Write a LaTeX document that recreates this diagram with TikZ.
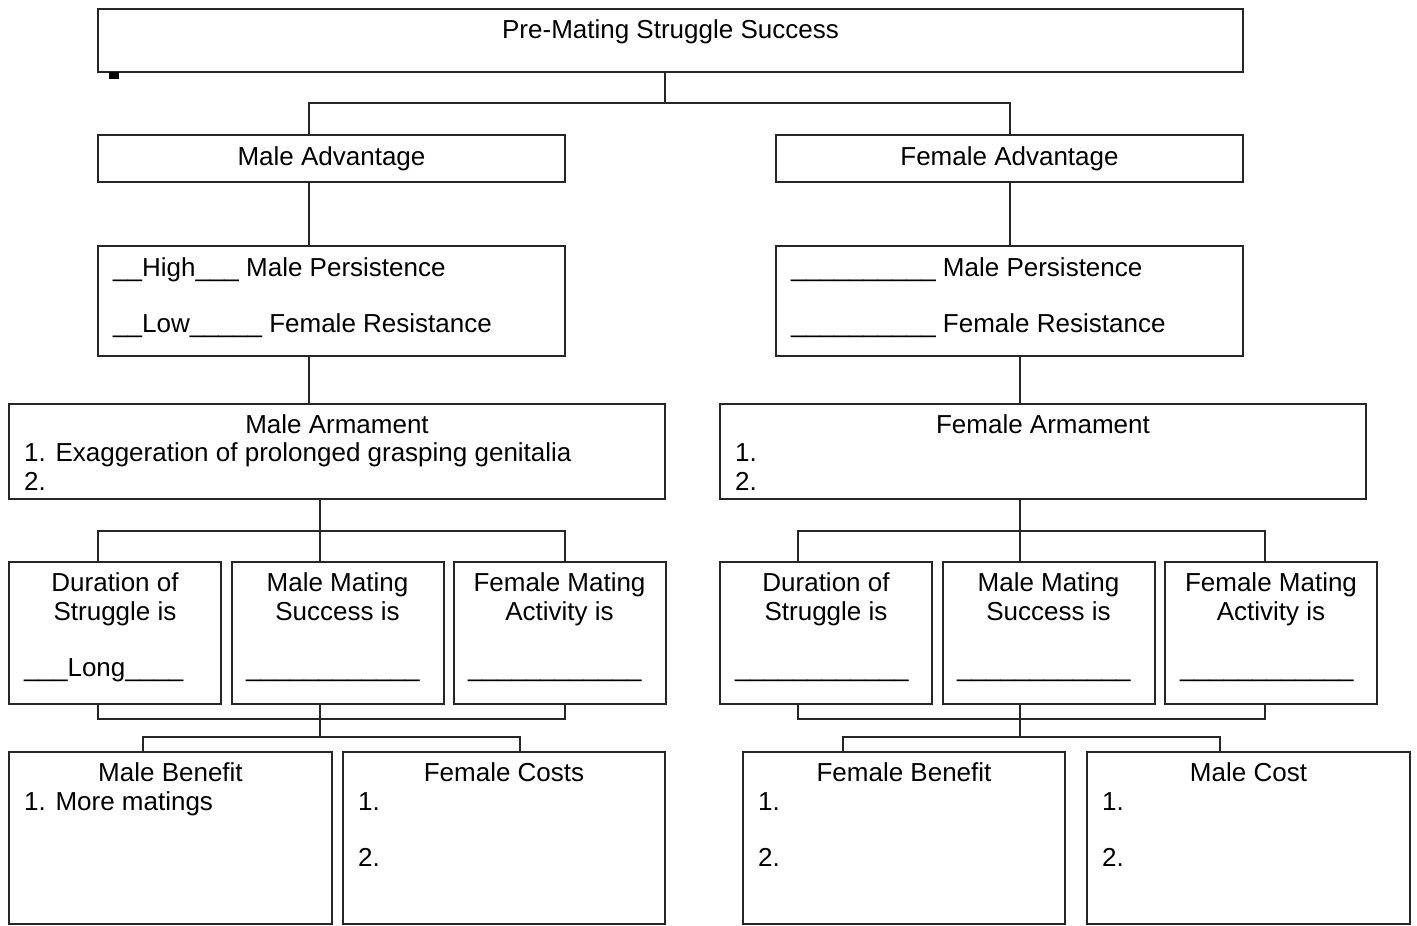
\documentclass[tikz,border=0pt]{standalone}
\usepackage{fontspec}
\setmainfont{Liberation Sans}
\definecolor{linecol}{gray}{0.15}
\begin{document}
\begin{tikzpicture}[x=1pt, y=-1pt,
    box/.style={draw=linecol, line width=2pt, inner sep=0pt},
    txt/.style={inner sep=0pt, font=\fontsize{26}{29}\selectfont},
    conn/.style={draw=linecol, line width=2pt}]
    \useasboundingbox (0,0) rectangle (1417,926);
    % boxes
    \node[box, minimum width=1145pt, minimum height=63pt] (Top) at (670.5,40.5) {};
    \node[box, minimum width=467pt, minimum height=47pt] (MaleAdv) at (331.5,158.5) {};
    \node[box, minimum width=467pt, minimum height=47pt] (FemAdv) at (1009.5,158.5) {};
    \node[box, minimum width=467pt, minimum height=110pt] (MalePers) at (331.5,301) {};
    \node[box, minimum width=467pt, minimum height=110pt] (FemPers) at (1009.5,301) {};
    \node[box, minimum width=656pt, minimum height=95pt] (MaleArm) at (337,451.5) {};
    \node[box, minimum width=646pt, minimum height=95pt] (FemArm) at (1043,451.5) {};
    \node[box, minimum width=212pt, minimum height=142pt] (DurL) at (115,633) {};
    \node[box, minimum width=212pt, minimum height=142pt] (MmsL) at (337.5,633) {};
    \node[box, minimum width=212pt, minimum height=142pt] (FmaL) at (559.5,633) {};
    \node[box, minimum width=212pt, minimum height=142pt] (DurR) at (826,633) {};
    \node[box, minimum width=212pt, minimum height=142pt] (MmsR) at (1048.5,633) {};
    \node[box, minimum width=212pt, minimum height=142pt] (FmaR) at (1271,633) {};
    \node[box, minimum width=323pt, minimum height=172pt] (MBen) at (170.5,838) {};
    \node[box, minimum width=322pt, minimum height=172pt] (FCost) at (504,838) {};
    \node[box, minimum width=322pt, minimum height=172pt] (FBen) at (904,838) {};
    \node[box, minimum width=323pt, minimum height=172pt] (MCost) at (1248.5,838) {};
    \fill[black] (109,72) rectangle (119,79);
    %
    % texts (multi-line nodes sit on their last baseline)
    \node[txt, anchor=base] (TopText) at (670.5,38) {Pre-Mating Struggle Success};
    \node[txt, anchor=base] (MaleAdvText) at (331.5,165) {Male Advantage};
    \node[txt, anchor=base] (FemAdvText) at (1009.5,165) {Female Advantage};
    \node[txt, anchor=base west, align=left] (MalePersText) at (113,332)
        {\_\_High\_\_\_ Male Persistence\\[27pt]\_\_Low\_\_\_\_\_ Female Resistance};
    \node[txt, anchor=base west, align=left] (FemPersText) at (791,332)
        {\_\_\_\_\_\_\_\_\_\_ Male Persistence\\[27pt]\_\_\_\_\_\_\_\_\_\_ Female Resistance};
    \node[txt, anchor=base] (MaleArmTitle) at (337,433) {Male Armament};
    \node[txt, anchor=base west, align=left] (MaleArmList) at (24,490)
        {1. Exaggeration of prolonged grasping genitalia\\2.};
    \node[txt, anchor=base] (FemArmTitle) at (1043,433) {Female Armament};
    \node[txt, anchor=base west, align=left] (FemArmList) at (735,490) {1.\\2.};
    %
    \node[txt, anchor=base, align=center] (DurLText) at (115,620) {Duration of\\Struggle is};
    \node[txt, anchor=base, align=center] (MmsLText) at (337.5,620) {Male Mating\\Success is};
    \node[txt, anchor=base, align=center] (FmaLText) at (559.5,620) {Female Mating\\Activity is};
    \node[txt, anchor=base west] (DurLFill) at (24,676) {\_\_\_Long\_\_\_\_};
    \node[txt, anchor=base west] (MmsLFill) at (246,676) {\_\_\_\_\_\_\_\_\_\_\_\_};
    \node[txt, anchor=base west] (FmaLFill) at (468,676) {\_\_\_\_\_\_\_\_\_\_\_\_};
    \node[txt, anchor=base, align=center] (DurRText) at (826,620) {Duration of\\Struggle is};
    \node[txt, anchor=base, align=center] (MmsRText) at (1048.5,620) {Male Mating\\Success is};
    \node[txt, anchor=base, align=center] (FmaRText) at (1271,620) {Female Mating\\Activity is};
    \node[txt, anchor=base west] (DurRFill) at (735,676) {\_\_\_\_\_\_\_\_\_\_\_\_};
    \node[txt, anchor=base west] (MmsRFill) at (957,676) {\_\_\_\_\_\_\_\_\_\_\_\_};
    \node[txt, anchor=base west] (FmaRFill) at (1180,676) {\_\_\_\_\_\_\_\_\_\_\_\_};
    %
    \node[txt, anchor=base] (MBenTitle) at (170.5,781) {Male Benefit};
    \node[txt, anchor=base west] (MBenList) at (24,810) {1. More matings};
    \node[txt, anchor=base] (FCostTitle) at (504,781) {Female Costs};
    \node[txt, anchor=base west, align=left] (FCostList) at (358,866) {1.\\[27pt]2.};
    \node[txt, anchor=base] (FBenTitle) at (904,781) {Female Benefit};
    \node[txt, anchor=base west, align=left] (FBenList) at (758,866) {1.\\[27pt]2.};
    \node[txt, anchor=base] (MCostTitle) at (1248.5,781) {Male Cost};
    \node[txt, anchor=base west, align=left] (MCostList) at (1102,866) {1.\\[27pt]2.};
    %
    % connectors
    \coordinate (BusTop) at (665,103);
    \coordinate (BusTopL) at (309,103);
    \coordinate (BusTopR) at (1010,103);
    \draw[conn] (Top.south -| BusTop) -- (BusTop);
    \draw[conn] (MaleAdv.north -| BusTopL) -- (BusTopL) -- (BusTopR) -- (FemAdv.north -| BusTopR);
    \draw[conn] (MaleAdv.south -| BusTopL) -- (MalePers.north -| BusTopL);
    \draw[conn] (FemAdv.south -| BusTopR) -- (FemPers.north -| BusTopR);
    \draw[conn] (MalePers.south -| BusTopL) -- (MaleArm.north -| BusTopL);
    %
    \coordinate (StemL) at (320,531);
    \coordinate (BusL1) at (98,531);
    \coordinate (BusL3) at (565,531);
    \draw[conn] (MaleArm.south -| StemL) -- (MmsL.north -| StemL);
    \draw[conn] (DurL.north -| BusL1) -- (BusL1) -- (BusL3) -- (FmaL.north -| BusL3);
    \coordinate (LowL1) at (98,719);
    \coordinate (LowL3) at (565,719);
    \coordinate (LowStemL) at (320,737);
    \coordinate (LowLa) at (143,737);
    \coordinate (LowLb) at (520,737);
    \draw[conn] (DurL.south -| LowL1) -- (LowL1) -- (LowL3) -- (FmaL.south -| LowL3);
    \draw[conn] (MmsL.south -| LowStemL) -- (LowStemL);
    \draw[conn] (MBen.north -| LowLa) -- (LowLa) -- (LowLb) -- (FCost.north -| LowLb);
    %
    \coordinate (StemR) at (1020,531);
    \coordinate (BusR1) at (798,531);
    \coordinate (BusR3) at (1265,531);
    \draw[conn] (FemPers.south -| StemR) -- (FemArm.north -| StemR);
    \draw[conn] (FemArm.south -| StemR) -- (MmsR.north -| StemR);
    \draw[conn] (DurR.north -| BusR1) -- (BusR1) -- (BusR3) -- (FmaR.north -| BusR3);
    \coordinate (LowR1) at (798,719);
    \coordinate (LowR3) at (1265,719);
    \coordinate (LowStemR) at (1020,737);
    \coordinate (LowRa) at (843,737);
    \coordinate (LowRb) at (1220,737);
    \draw[conn] (DurR.south -| LowR1) -- (LowR1) -- (LowR3) -- (FmaR.south -| LowR3);
    \draw[conn] (MmsR.south -| LowStemR) -- (LowStemR);
    \draw[conn] (FBen.north -| LowRa) -- (LowRa) -- (LowRb) -- (MCost.north -| LowRb);
\end{tikzpicture}
\end{document}
